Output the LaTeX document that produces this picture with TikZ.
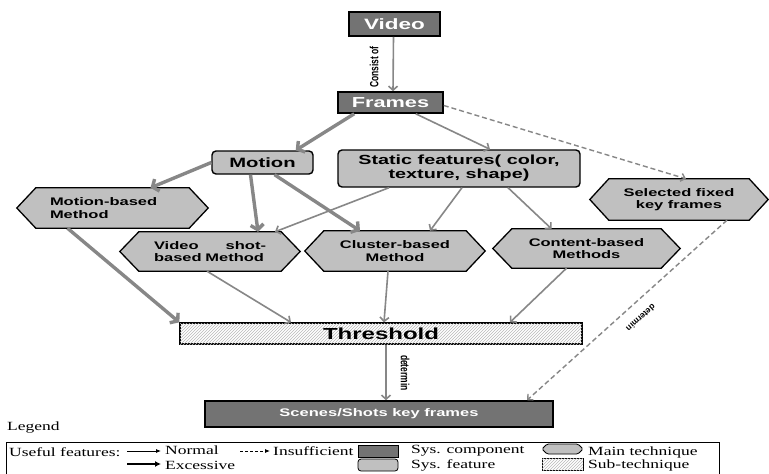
\documentclass[tikz,border=0pt]{standalone}
\usepackage{fontspec}
\setmainfont{Liberation Sans}
\newfontfamily\dfont[FakeStretch=1.5,BoldFeatures={FakeStretch=1.5}]{Liberation Sans}
\newfontfamily\lfont[FakeStretch=1.4]{Liberation Serif}
\newfontfamily\cfont{Liberation Sans}
\usetikzlibrary{arrows.meta,patterns}
\pgfdeclarelayer{background}
\pgfsetlayers{background,main}
\definecolor{darkbox}{HTML}{737373}
\definecolor{lightbox}{HTML}{C0C0C0}
\definecolor{arrowgray}{HTML}{878787}
\tikzset{
  comp/.style={draw=black, line width=1.6pt, fill=darkbox, text=white, inner sep=0pt,
    font=\dfont\bfseries\fontsize{14.5}{16}\selectfont},
  feat/.style={draw=black, line width=1.4pt, fill=lightbox, rounded corners=4pt, inner sep=0pt, align=center},
  hexbox/.style={inner sep=0pt, align=center, font=\dfont\bfseries\fontsize{11}{12.5}\selectfont},
  hexshape/.style={draw=black, line width=1.3pt, fill=lightbox, line join=miter},
  normal/.style={draw=arrowgray, line width=1.6pt, -{Straight Barb[length=4pt,width=9pt]}},
  excess/.style={draw=arrowgray, line width=3.4pt, -{Straight Barb[length=5pt,width=13pt]}},
  insuff/.style={draw=arrowgray, line width=1.4pt, dash pattern=on 5pt off 3pt, -{Straight Barb[length=4pt,width=8pt]}},
  lbl/.style={font=\cfont\bfseries\fontsize{8.5}{9}\selectfont, inner sep=0pt},
  legtext/.style={font=\lfont\fontsize{12.5}{14}\selectfont, inner sep=0pt, anchor=west},
  hatch/.style={fill=white, postaction={pattern=north east lines, pattern color=gray!55}},
}
\begin{document}
\begin{tikzpicture}[x=1pt,y=-1pt]
\useasboundingbox (0,0) rectangle (769,474);

% nodes
\node[comp, minimum width=91pt, minimum height=24pt, font=\dfont\bfseries\fontsize{15}{16}\selectfont] (video) at (394.5,24) {Video};
\node[comp, minimum width=105pt, minimum height=21pt] (fr) at (390.5,102.5) {Frames};
\node[feat, minimum width=101pt, minimum height=23pt, font=\dfont\bfseries\fontsize{13.5}{15}\selectfont] (mo) at (262.5,162.5) {Motion};
\node[feat, minimum width=242pt, minimum height=37pt, font=\dfont\bfseries\fontsize{13.2}{14}\selectfont] (st) at (459,168.5) {Static features( color,\\ texture, shape)};

\node[hexbox, minimum width=191pt, minimum height=40pt, text width=125pt, align=left] (mb) at (112.5,208) {Motion-based\\Method};
\node[hexbox, minimum width=180pt, minimum height=39pt, text width=112pt, align=left] (vs) at (210,251.5) {Video\hspace{0pt plus 1filll}shot-\\based Method};
\node[hexbox, minimum width=180pt, minimum height=40pt] (cb) at (395,251) {Cluster-based\\Method};
\node[hexbox, minimum width=187pt, minimum height=39pt] (ct) at (586.5,248.5) {Content-based\\Methods};
\node[hexbox, minimum width=178pt, minimum height=41pt] (sel) at (679,199.5) {Selected fixed\\key frames};

\node[draw=black, line width=1.3pt, hatch, minimum width=402pt, minimum height=21pt, inner sep=0pt,
  font=\dfont\bfseries\fontsize{16}{18}\selectfont] (thr) at (381,333.5) {Threshold};
\node[comp, minimum width=348pt, minimum height=26pt, font=\dfont\bfseries\fontsize{11}{12}\selectfont] (sc) at (379,414) {Scenes/Shots key frames};

\begin{pgfonlayer}{background}
\fill[white] (0,0) rectangle (769,474);
\foreach \n in {mb,vs,cb,ct,sel}{
  \draw[hexshape] (\n.west) -- ([xshift=19pt]\n.north west) -- ([xshift=-19pt]\n.north east) -- (\n.east)
    -- ([xshift=-19pt]\n.south east) -- ([xshift=19pt]\n.south west) -- cycle;
}
\end{pgfonlayer}

% connectors
\draw[normal] ([xshift=-1pt]video.south) -- ([xshift=2.5pt]fr.north);
\draw[excess] ([xshift=17pt]fr.south west) -- ([xshift=-18pt]mo.north east);
\draw[normal] ([xshift=-28pt]fr.south east) -- ([xshift=31pt]st.north);
\draw[insuff] ([yshift=-3pt]fr.east) -- ([xshift=7pt]sel.north);
\draw[excess] (mo.west) -- ([xshift=38pt]mb.north);
\draw[excess] ([xshift=-12pt]mo.south) -- ([xshift=48pt]vs.north);
\draw[excess] ([xshift=12pt]mo.south) -- ([xshift=-35pt]cb.north);
\draw[normal] ([xshift=-70pt]st.south) -- ([xshift=65pt]vs.north);
\draw[normal] ([xshift=3pt]st.south) -- ([xshift=35pt]cb.north);
\draw[normal] ([xshift=49pt]st.south) -- ([xshift=-35pt]ct.north);
\draw[excess] ([xshift=-45pt]mb.south) -- (thr.north west);
\draw[normal] ([xshift=-3pt]vs.south) -- ([xshift=-90pt]thr.north);
\draw[normal] ([xshift=-7pt]cb.south) -- ([xshift=3pt]thr.north);
\draw[normal] ([xshift=-20pt]ct.south) -- ([xshift=129pt]thr.north);
\draw[normal] ([xshift=5pt]thr.south) -- ([xshift=7pt]sc.north);
\draw[insuff] ([xshift=48pt]sel.south) -- ([xshift=148pt]sc.north);

% connector labels
\node[lbl, rotate=90] (l1) at (374,67) {\scalebox{1}[1.4]{Consist of}};
\node[lbl, rotate=-90] (l2) at (405,373) {\scalebox{1}[1.4]{determin}};
\node[lbl, rotate=222] (l3) at (641,318) {determin};

% legend
\node[legtext] (legt) at (7,428) {Legend};
\draw[line width=0.8pt] (6,478) -- (6,442) -- (719,442) -- (719,478);
\node[legtext] (uf) at (9,452) {Useful features:};
\coordinate (a1) at (127,451); \coordinate (a2) at (161,451);
\draw[line width=0.8pt, -{Latex[length=5pt,width=4pt]}] (a1) -- (a2);
\node[legtext] (ln) at (165,450) {Normal};
\coordinate (b1) at (127,464); \coordinate (b2) at (161,464);
\draw[line width=2pt, -{Latex[length=6pt,width=6pt]}] (b1) -- (b2);
\node[legtext] (le) at (165,465) {Excessive};
\coordinate (c1) at (240,451); \coordinate (c2) at (270,451);
\draw[line width=0.8pt, dash pattern=on 3pt off 2pt, -{Latex[length=5pt,width=4pt]}] (c1) -- (c2);
\node[legtext] (li) at (273,451) {Insufficient};
\draw[line width=0.8pt, fill=darkbox] (358,445) rectangle (398,457);
\node[legtext] (lc) at (411,451) {Sys. component};
\draw[line width=0.8pt, fill=lightbox, rounded corners=3pt] (358,459) rectangle (398,471);
\node[legtext] (lf) at (411,465) {Sys. feature};
\draw[line width=0.8pt, fill=lightbox, rounded corners=1.5pt] (542,449) -- (547,444) -- (578,444) -- (583,449) -- (578,454) -- (547,454) -- cycle;
\node[legtext] (lm) at (588,452) {Main technique};
\draw[line width=0.8pt, hatch] (542,458) rectangle (583,470);
\node[legtext] (ls) at (588,465) {Sub-technique};
\end{tikzpicture}
\end{document}
